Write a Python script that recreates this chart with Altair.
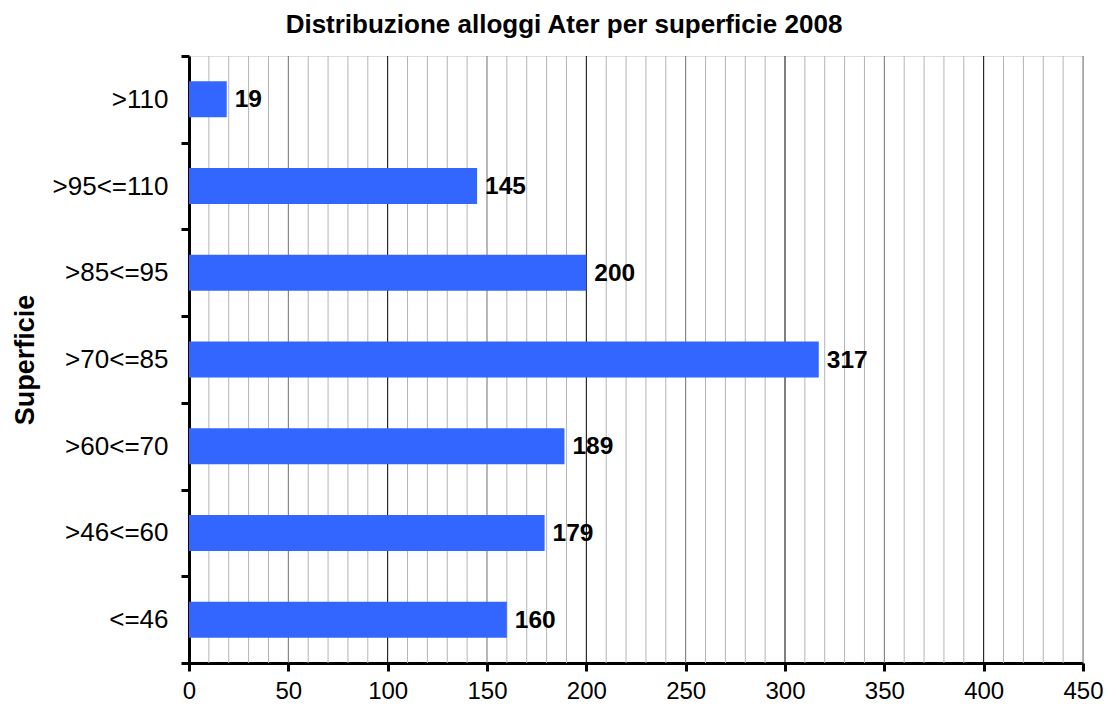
import altair as alt
import pandas as pd

categories = [">110", ">95<=110", ">85<=95", ">70<=85", ">60<=70", ">46<=60", "<=46"]
values = [19, 145, 200, 317, 189, 179, 160]
x_ticks = [0, 50, 100, 150, 200, 250, 300, 350, 400, 450]

df = pd.DataFrame({"cat": categories, "val": values})
grid_minor = pd.DataFrame({"g": [v for v in range(10, 451, 10) if v % 50 != 0]})
grid_50 = pd.DataFrame({"g": [v for v in x_ticks if v % 100 != 0 and v > 0]})
grid_100 = pd.DataFrame({"g": [v for v in x_ticks if v % 100 == 0 and v > 0]})

FONT = "Liberation Sans"
xscale = alt.Scale(domain=[0, 450], nice=False, zero=True)
xaxis = alt.Axis(values=x_ticks, title=None, grid=False, labelFontSize=24,
                 labelFont=FONT, labelColor="black", labelPadding=8,
                 tickSize=8, tickWidth=3, tickColor="black",
                 domainWidth=3, domainColor="black", labelFlush=False)
yaxis = alt.Axis(title="Superficie", titleFont=FONT, titleFontSize=27,
                 titleFontWeight="bold", titleColor="black", titlePadding=13,
                 labelFont=FONT, labelFontSize=26, labelColor="black",
                 labelPadding=13, tickBand="extent", tickSize=8, tickWidth=3,
                 tickColor="black", domainWidth=3, domainColor="black",
                 grid=False)
yscale = alt.Scale(paddingInner=0, paddingOuter=0)

def grid_layer(data, color):
    return alt.Chart(data).mark_rule(color=color, strokeWidth=1).encode(
        x=alt.X("g:Q", scale=xscale, axis=xaxis)
    )

bars = alt.Chart(df).mark_bar(color="#3366FF", height=alt.RelativeBandSize(0.415)).encode(
    x=alt.X("val:Q", scale=xscale, axis=xaxis),
    y=alt.Y("cat:N", sort=categories, scale=yscale, axis=yaxis),
)

labels = alt.Chart(df).mark_text(align="left", baseline="middle", dx=8, dy=1,
                                 font=FONT, fontSize=24.5, fontWeight="bold",
                                 color="black").encode(
    x=alt.X("val:Q", scale=xscale, axis=xaxis),
    y=alt.Y("cat:N", sort=categories, scale=yscale, axis=yaxis),
    text="val:Q",
)

chart = alt.layer(
    grid_layer(grid_minor, "#b4b4b4"),
    grid_layer(grid_50, "#707070"),
    grid_layer(grid_100, "#000000"),
    bars,
    labels,
).properties(
    width=894,
    height=607,
    title=alt.TitleParams("Distribuzione alloggi Ater per superficie 2008", font=FONT,
                          fontSize=26, fontWeight="bold", color="black", dx=-72,
                          offset=5, anchor="middle"),
    autosize=alt.AutoSizeParams(type="none"),
    padding={"left": 181, "top": 48, "right": 21, "bottom": 42},
).configure_view(stroke=None).configure(background="white")

chart.save("out.html", embed_options={"renderer": "svg", "actions": False})
